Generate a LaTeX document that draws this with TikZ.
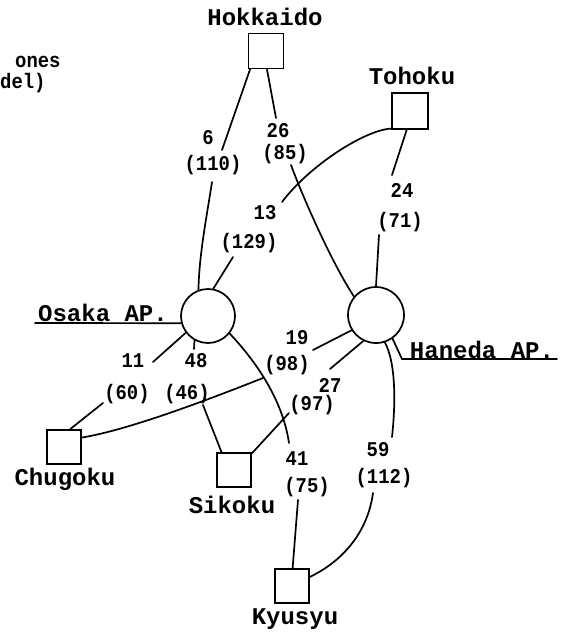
\documentclass[tikz,border=0pt]{standalone}
\usepackage{fontspec}
\newfontfamily\labfont{Liberation Mono}
\newfontfamily\numfont[FakeStretch=0.9]{Liberation Mono}
\tikzset{
  conn/.style={line width=1.7pt, line cap=round},
  box/.style={draw, line width=1.7pt, minimum size=35pt, inner sep=0pt},
  ap/.style={draw, circle, line width=1.7pt, inner sep=0pt},
  lab/.style={font=\labfont\bfseries\fontsize{24}{26}\selectfont, inner sep=0pt},
  num/.style={font=\numfont\bfseries\fontsize{21}{24}\selectfont, inner sep=0pt},
}
\begin{document}
\begin{tikzpicture}[x=1pt,y=-1pt]
\useasboundingbox (0,0) rectangle (563,634);
% places
\node[box] (hok) at (266,51) {};
\node[box, minimum size=36pt] (toh) at (410,111) {};
\node[box, minimum size=34pt] (chu) at (64,447) {};
\node[box, minimum size=34pt] (sik) at (234,470) {};
\node[box, minimum size=34pt] (kyu) at (292,586) {};
\node[ap, minimum size=54pt] (osa) at (208,316) {};
\node[ap, minimum size=56pt] (han) at (376,315) {};
% names
\node[lab] (thok) at (265,17) {Hokkaido};
\node[lab] (ttoh) at (412,76) {Tohoku};
\node[lab] (tchu) at (65,479) {Chugoku};
\node[lab] (tsik) at (232,505) {Sikoku};
\node[lab] (tkyu) at (295,619) {Kyusyu};
\node[lab] (tosa) at (103,313) {Osaka AP.};
\node[lab] (than) at (482,350) {Haneda AP.};
\node[num, anchor=west] (tones) at (15,62) {ones};
\node[num, anchor=west] (tdel) at (0,83) {del)};
% underlines
\coordinate (ou) at (35,323);
\draw[conn] (ou) -- (osa.195);
\coordinate (hu1) at (402,359);
\coordinate (hu2) at (557,359);
\draw[conn] (han.305) -- (hu1) -- (hu2);
% edge labels
\node[num] (n6) at (208,138) {6};
\node[num] (n110) at (213,165) {(110)};
\node[num] (n26) at (278,131) {26};
\node[num] (n85) at (285,154) {(85)};
\node[num] (n13) at (265,213) {13};
\node[num] (n129) at (249,243) {(129)};
\node[num] (n24) at (402,190) {24};
\node[num] (n71) at (400,222) {(71)};
\node[num] (n11) at (133,361) {11};
\node[num] (n60) at (127,394) {(60)};
\node[num] (n48) at (196,361) {48};
\node[num] (n46) at (187,394) {(46)};
\node[num] (n19) at (297,338) {19};
\node[num] (n98) at (287,365) {(98)};
\node[num] (n27) at (330,385) {27};
\node[num] (n97) at (312,405) {(97)};
\node[num] (n41) at (297,459) {41};
\node[num] (n75) at (307,487) {(75)};
\node[num] (n59) at (378,450) {59};
\node[num] (n112) at (384,478) {(112)};
% edge break points
\coordinate (e1a) at (222,150); \coordinate (e1b) at (212,182);
\coordinate (e2a) at (276,118); \coordinate (e2b) at (291,165);
\coordinate (e3a) at (282,202); \coordinate (e3b) at (233,257);
\coordinate (e4a) at (392,175); \coordinate (e4b) at (379,235);
\coordinate (e5a) at (153,362); \coordinate (e5b) at (103,403);
\coordinate (e6a) at (194,349); \coordinate (e6b) at (203,405);
\coordinate (e7a) at (289,443); \coordinate (e7b) at (298,500);
\coordinate (e8a) at (313,350); \coordinate (e8b) at (263,378);
\coordinate (e9a) at (330,369); \coordinate (e9b) at (289,413);
\coordinate (e10a) at (392,437); \coordinate (e10b) at (373,493);
% edges
\draw[conn] (hok.229) -- (e1a) (e1b) .. controls (207,215) and (199,255) .. (osa.110);
\draw[conn] (hok.273) -- (e2a) (e2b) .. controls (300,190) and (330,260) .. (han.140);
\draw[conn] (toh.223) .. controls (365,130) and (310,165) .. (e3a) (e3b) -- (osa.79);
\draw[conn] (toh.260) -- (e4a) (e4b) -- (han.90);
\draw[conn] (osa.217) -- (e5a) (e5b) -- (chu.71);
\draw[conn] (osa.241) -- (e6a) (e6b) -- (sik.125);
\draw[conn] (osa.321) .. controls (250,355) and (282,395) .. (e7a) (e7b) -- (kyu.88);
\draw[conn] (han.212) -- (e8a) (e8b) .. controls (220,395) and (130,430) .. (chu.28);
\draw[conn] (han.244) -- (e9a) (e9b) -- (sik.43);
\draw[conn] (han.288) .. controls (397,365) and (395,410) .. (e10a) (e10b) .. controls (368,530) and (345,560) .. (kyu.27);
\end{tikzpicture}
\end{document}
